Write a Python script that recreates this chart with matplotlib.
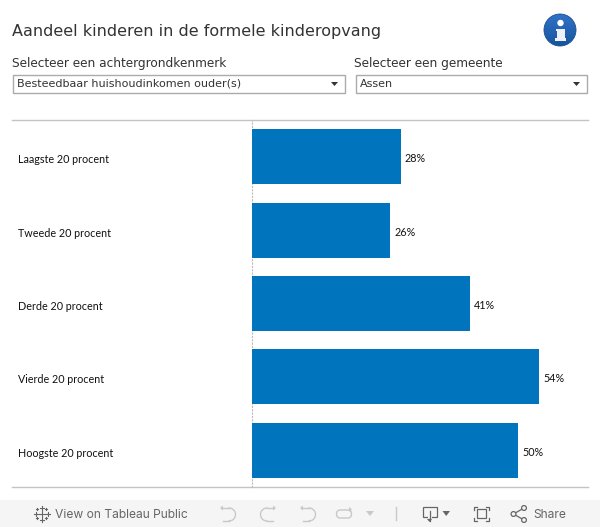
"""Aandeel kinderen in de formele kinderopvang - Tableau dashboard look."""
import matplotlib
matplotlib.use("Agg")
import matplotlib.pyplot as plt
import numpy as np
from matplotlib.patches import Circle, Polygon, Rectangle, FancyBboxPatch
from matplotlib.transforms import ScaledTranslation

W, H = 600, 527

categories = ["Laagste 20 procent", "Tweede 20 procent", "Derde 20 procent",
              "Vierde 20 procent", "Hoogste 20 procent"]
values = [28, 26, 41, 54, 50]

BLUE = "#0075BE"
TEXT = "#333333"
RULE = "#C4C4C4"
ICON = "#C8C8C8"
DARK = "#666666"
BAR_FONT = "Lato"

fig = plt.figure(figsize=(W / 100, H / 100), dpi=100, facecolor="white")

# pixel overlay for the dashboard furniture
ui = fig.add_axes([0, 0, 1, 1])
ui.set_xlim(0, W)
ui.set_ylim(H, 0)
ui.axis("off")

ui.text(12, 36, "Aandeel kinderen in de formele kinderopvang", fontsize=11.5,
        color=TEXT, va="baseline", ha="left")

# filters
def dropdown(x0, x1, label, value):
    ui.text(x0 - 1, 66.5, label, fontsize=8.7, color=TEXT, va="baseline", ha="left")
    ui.add_patch(Rectangle((x0, 74.5), x1 - x0, 18.5, fc="white", ec="#ABABAB", lw=1))
    ui.text(x0 + 4, 87, value, fontsize=8.05, color=TEXT, va="baseline", ha="left")
    ax_ = x1 - 10
    ui.add_patch(Polygon([(ax_ - 3.5, 82), (ax_ + 3.5, 82), (ax_, 86)], fc="#333333", ec="none"))

dropdown(13, 344.5, "Selecteer een achtergrondkenmerk", "Besteedbaar huishoudinkomen ouder(s)")
dropdown(355.5, 586.5, "Selecteer een gemeente", "Assen")

# info icon
grad = np.linspace(0, 1, 64).reshape(-1, 1)
top = np.array([0.20, 0.45, 0.78])
bot = np.array([0.08, 0.33, 0.62])
img = top + (bot - top) * grad[..., None]
im = ui.imshow(img, extent=(544, 576, 46, 14), zorder=2, aspect="auto")
im.set_clip_path(Circle((560, 30), 16, transform=ui.transData))
ui.add_patch(Circle((560, 30), 16, fc="none", ec="#1A4F8F", lw=0.6, zorder=3))
ui.add_patch(Circle((560.5, 23), 3.2, fc="white", ec="none", zorder=4))
ui.add_patch(Polygon([(556, 29), (564.5, 29), (564.5, 37.5), (566, 37.5), (566, 41), (555, 41),
                      (555, 37.5), (557, 37.5), (557, 31), (556, 31)],
                     fc="#EEF2F6", ec="none", zorder=4))
ui.set_xlim(0, W)
ui.set_ylim(H, 0)

# rules above and below the view
ui.plot([12, 588], [120, 120], color=RULE, lw=1)
ui.plot([12, 588], [487, 487], color=RULE, lw=1)

# toolbar
ui.add_patch(Rectangle((0, 500), W, 27, fc="#F5F5F5", ec="none"))
ui.text(55, 518, "View on Tableau Public", fontsize=8.7, color=DARK, va="baseline", ha="left",
        family="Inter")
ui.text(533, 518, "Share", fontsize=8.7, color=DARK, va="baseline", ha="left", family="Inter")

# tableau logo: small crosses
for cx, cy, r in [(41.5, 513.5, 3), (35.5, 513.5, 2), (47.5, 513.5, 2), (41.5, 507.5, 2), (41.5, 519.5, 2),
                  (37, 509, 1.4), (46, 509, 1.4), (37, 518, 1.4), (46, 518, 1.4)]:
    ui.plot([cx - r, cx + r], [cy, cy], color=DARK, lw=0.8)
    ui.plot([cx, cx], [cy - r, cy + r], color=DARK, lw=0.8)

# undo, redo, revert, refresh
t = np.linspace(-np.pi / 2, np.pi / 2, 20)
for x0, flip in [(229, 1), (267, -1), (309, 1)]:
    ui.plot(x0 + flip * 6.5 * np.cos(t), 514.5 + 6.5 * np.sin(t), color=ICON, lw=1)
    ui.plot([x0, x0 - flip * 6], [508, 508], color=ICON, lw=1)
    ui.plot([x0, x0 - flip * 6], [521, 521], color=ICON, lw=1)
    ui.add_patch(Polygon([(x0 - flip * 6, 505.5), (x0 - flip * 6, 510.5), (x0 - flip * 9, 508)],
                         fc=ICON, ec="none"))
ui.add_patch(FancyBboxPatch((336.5, 510), 15, 8, boxstyle="round,pad=0,rounding_size=4",
                            fc="none", ec=ICON, lw=1))
ui.add_patch(Polygon([(349, 507), (349, 512), (352, 509.5)], fc=ICON, ec="none"))
ui.add_patch(Polygon([(366, 511), (374, 511), (370, 516)], fc=ICON, ec="none"))
ui.plot([395.5, 395.5], [507, 520], color=ICON, lw=1)

# download
ui.add_patch(Rectangle((422.5, 506.5), 14, 10, fc="none", ec=DARK, lw=0.9))
ui.add_patch(Rectangle((427.5, 515), 4, 3, fc="#F5F5F5", ec="none"))
ui.plot([429.5, 429.5], [511, 521], color=DARK, lw=0.9)
ui.add_patch(Polygon([(427, 519), (432, 519), (429.5, 522)], fc=DARK, ec="none"))
ui.add_patch(Polygon([(442.5, 511), (450, 511), (446.2, 516)], fc=DARK, ec="none"))

# fullscreen
ui.add_patch(Rectangle((476.5, 509), 9, 9, fc="none", ec=DARK, lw=0.9))
for sx, sy, dx, dy in [(473.5, 506.5, 1, 1), (488.5, 506.5, -1, 1),
                       (473.5, 521, 1, -1), (488.5, 521, -1, -1)]:
    ui.plot([sx + dx * 3, sx, sx], [sy, sy, sy + dy * 3], color=DARK, lw=0.9)

# share
pts = [(513.5, 514), (524, 508), (524, 520)]
for p in pts[1:]:
    ui.plot([pts[0][0], p[0]], [pts[0][1], p[1]], color=DARK, lw=0.9)
for p in pts:
    ui.add_patch(Circle(p, 2.4, fc="#F5F5F5", ec=DARK, lw=0.9, zorder=3))

# the bar chart itself
ax = fig.add_axes([252 / W, 1 - 487 / H, 336 / W, 367 / H])
ax.patch.set_alpha(0)
y = np.arange(len(categories))
ax.barh(y, values, height=0.75, color=BLUE, zorder=3)
ax.set_xlim(0, 336 / 5.32)
ax.set_ylim(len(categories) - 0.5, -0.5)
ax.set_xticks([])
ax.set_yticks([])
for s in ["top", "right", "bottom"]:
    ax.spines[s].set_visible(False)
ax.spines["left"].set_color("#BDBDBD")
ax.spines["left"].set_linewidth(0.8)
ax.spines["left"].set_linestyle((0, (1, 2)))

# text sits slightly under the bar centre in the reference
label_shift = ax.get_yaxis_transform() + ScaledTranslation(0, -3 / 100, fig.dpi_scale_trans)
value_shift = ax.transData + ScaledTranslation(0, -2 / 100, fig.dpi_scale_trans)
for yi, cat, v in zip(y, categories, values):
    ax.text(-234 / 336, yi, cat, va="center", ha="left", fontsize=7.75, color="#111111",
            family=BAR_FONT, transform=label_shift)
    ax.text(v + 4 / 5.32, yi, f"{v}%", va="center", ha="left", fontsize=7.75, color="#111111",
            family=BAR_FONT, transform=value_shift)

fig.savefig("out.png", dpi=100)
